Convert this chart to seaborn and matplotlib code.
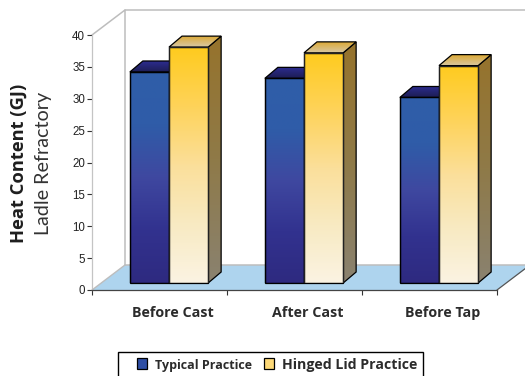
import numpy as np
import pandas as pd
import matplotlib
matplotlib.use("Agg")
import matplotlib.pyplot as plt
from matplotlib.colors import LinearSegmentedColormap
from matplotlib.patches import Polygon, Rectangle, Patch
from matplotlib.transforms import ScaledTranslation
import seaborn as sns

stages = ["Before Cast", "After Cast", "Before Tap"]
typical = [33.1, 32.1, 29.1]
hinged = [37.0, 36.1, 34.1]
series_names = ["Typical Practice", "Hinged Lid Practice"]
y_ticks = [0, 5, 10, 15, 20, 25, 30, 35, 40]

W, H = 525, 376
DPI = 100
sns.set_theme(style="white")
plt.rcParams["font.family"] = ["Liberation Sans", "DejaVu Sans"]

BLUE_FRONT = ["#2f5ea9", "#2f5ca8", "#3f48a0", "#32328f", "#2e2a80"]
BLUE_TOP = ["#2d2d90", "#1d1d55"]
GOLD_FRONT = ["#ffcb1f", "#fed35a", "#fbdf9a", "#f8eac2", "#fbf3e2"]
GOLD_SIDE = ["#96732c", "#8f7a48", "#8a8270"]
GOLD_TOP = ["#dcaa38", "#d8c8a4"]


def rect_px(x0, y0, x1, y1):
    """Axes rectangle from pixel edges, y measured from the top of the figure."""
    return [x0 / W, 1 - y1 / H, (x1 - x0) / W, (y1 - y0) / H]


fig = plt.figure(figsize=(W / DPI, H / DPI), dpi=DPI)

# Backdrop layer in pixel units: back wall, floor and legend frame
bg = fig.add_axes([0, 0, 1, 1], zorder=0)
bg.set_xlim(0, W)
bg.set_ylim(H, 0)
bg.axis("off")
bg.add_patch(Polygon([(92, 290), (125, 265), (531, 265), (497, 290)],
                     closed=True, facecolor="#aed4ee", edgecolor="none"))
wall = "#bdbdbd"
bg.plot([92, 125, 125], [35, 10, 265], color=wall, lw=1.1)
bg.plot([125, W], [10, 10], color=wall, lw=1.1)
bg.plot([125, W], [265, 265], color=wall, lw=1.1)
bg.plot([92, 125], [290, 265], color=wall, lw=1.0)
bg.plot([497, 526], [290, 268], color="#555555", lw=0.9)
bg.add_patch(Rectangle((118, 351.5), 305, 30, facecolor="white",
                       edgecolor="black", lw=1.0))

# Value axis and category ticks on the front edge of the floor
ax = fig.add_axes(rect_px(92, 35, 497, 290), zorder=1)
ax.patch.set_alpha(0)
ax.set_xlim(-0.5, 2.5)
ax.set_ylim(0, 40)
ax.set_yticks(y_ticks)
ax.set_xticks([-0.5, 0.5, 1.5, 2.5])
ax.set_xticklabels([])
ax.tick_params(axis="both", length=3.5, width=0.8, color="#333333",
               left=True, bottom=True)
ax.tick_params(axis="y", labelsize=8.3, labelcolor="#222222", pad=1.5)
for side in ("top", "right"):
    ax.spines[side].set_visible(False)
ax.spines["left"].set_color("#c4c4c4")
ax.spines["left"].set_linewidth(0.9)
ax.spines["bottom"].set_color("#444444")
ax.spines["bottom"].set_linewidth(0.9)

# Bars stand on a plane set back from the axis plane
bars = fig.add_axes(rect_px(101.5, 28, 506.5, 283), zorder=2)
bars.patch.set_alpha(0)
df = pd.DataFrame({
    "stage": stages * 2,
    "practice": [series_names[0]] * 3 + [series_names[1]] * 3,
    "heat": typical + hinged,
})
sns.barplot(data=df, x="stage", y="heat", hue="practice", ax=bars,
            hue_order=series_names, palette=["#2f5ca8", "#ffcb1f"],
            width=0.58, gap=0, dodge=True, legend=False,
            edgecolor="black", linewidth=0.9, saturation=1)
bars.set_xlim(-0.5, 2.5)
bars.set_ylim(0, 40)
bars.set_yticks([])
bars.set_xlabel("")
bars.set_ylabel("")
sns.despine(ax=bars, left=True, bottom=True)
bars.tick_params(axis="x", length=0, pad=16.8)
shift = ScaledTranslation(4 / DPI, 0, fig.dpi_scale_trans)
for lab in bars.get_xticklabels():
    lab.set_fontfamily("Open Sans")
    lab.set_fontweight("bold")
    lab.set_fontsize(10.3)
    lab.set_color("#2b2b2b")
    lab.set_transform(lab.get_transform() + shift)

DX = 13 / (405 / 3)
DY = 11 / (255 / 40)


def gradient_poly(verts, colors, z, edge="black"):
    """Fill a polygon with a vertical colour ramp, outlined on top."""
    xs, ys = zip(*verts)
    cmap = LinearSegmentedColormap.from_list("ramp", colors)
    ramp = np.linspace(0, 1, 128)[:, None]
    im = bars.imshow(ramp, cmap=cmap, aspect="auto", origin="upper",
                     extent=(min(xs), max(xs), min(ys), max(ys)),
                     zorder=z, interpolation="bilinear")
    clip = Polygon(verts, closed=True, transform=bars.transData,
                   facecolor="none", edgecolor="none")
    bars.add_patch(clip)
    im.set_clip_path(clip)
    im.set_clip_on(True)
    outline = Polygon(verts, closed=True, facecolor="none", edgecolor=edge,
                      lw=0.9, zorder=z + 0.1, clip_on=False, joinstyle="miter")
    bars.add_patch(outline)


# Extrude each seaborn bar: top and side faces behind, shaded front face
rects = list(bars.patches)
for i, r in enumerate(rects):
    x0, w, h = r.get_x(), r.get_width(), r.get_height()
    x1 = x0 + w
    blue = i < 3
    base = 10 + (0 if blue else 2) + (i % 3) * 3
    top = [(x0, h), (x1, h), (x1 + DX, h + DY), (x0 + DX, h + DY)]
    side = [(x1, 0), (x1 + DX, DY), (x1 + DX, h + DY), (x1, h)]
    if blue:
        gradient_poly(top, BLUE_TOP, base)
    else:
        gradient_poly(side, GOLD_SIDE, base)
        gradient_poly(top, GOLD_TOP, base + 0.3)
    front = [(x0, 0), (x1, 0), (x1, h), (x0, h)]
    gradient_poly(front, BLUE_FRONT if blue else GOLD_FRONT, base + 0.6)
    r.set_facecolor("none")
    r.set_zorder(base + 0.8)
    r.set_edgecolor("black" if blue else "#222222")
bars.set_xlim(-0.5, 2.5)
bars.set_ylim(0, 40)

# Axis titles
fig.text(19 / W, 1 - 163 / H, "Heat Content (GJ)", rotation=90, ha="center",
         va="center", fontsize=13.2, fontweight="bold", family="Open Sans",
         color="#1e1e1e")
fig.text(44 / W, 1 - 163 / H, "Ladle Refractory", rotation=90, ha="center",
         va="center", fontsize=14.2, family="Lato", color="#333333")

# Legend inside the open-bottomed frame
handles = [Patch(facecolor=c, edgecolor="black", lw=0.9)
           for c in ("#2f4fa5", "#fdd978")]
leg = fig.legend(handles, series_names, ncols=2, frameon=False,
                 loc="center", bbox_to_anchor=(277 / W, 1 - 364.5 / H),
                 fontsize=10.3, handlelength=0.7, handleheight=0.7,
                 handletextpad=0.55, columnspacing=0.85, borderpad=0,
                 borderaxespad=0)
sizes = [9.0, 10.2]
for txt, size in zip(leg.get_texts(), sizes):
    txt.set_fontfamily("Open Sans")
    txt.set_fontweight("bold")
    txt.set_fontsize(size)
    txt.set_color("#2b2b2b")

fig.savefig("out.png", dpi=DPI, facecolor="white")
